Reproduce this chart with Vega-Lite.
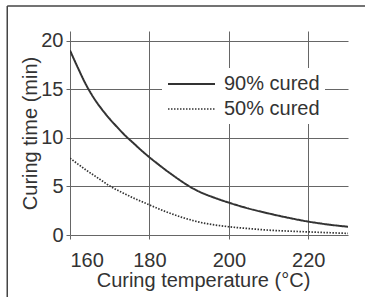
{
  "$schema": "https://vega.github.io/schema/vega-lite/v6.json",
  "autosize": "none",
  "width": 278,
  "height": 204,
  "padding": {"left": 70, "top": 31, "right": 17, "bottom": 62},
  "background": "white",
  "config": {
    "view": {"stroke": null},
    "font": "Liberation Sans",
    "axis": {
      "gridColor": "#666",
      "gridOpacity": 1,
      "gridWidth": 1,
      "tickColor": "#666",
      "tickSize": 4,
      "tickWidth": 1,
      "domain": false,
      "labelFont": "Liberation Sans",
      "labelFontSize": 20,
      "labelColor": "#333",
      "titleFont": "Liberation Sans",
      "titleFontSize": 20,
      "titleFontWeight": "normal",
      "titleColor": "#333"
    }
  },
  "datasets": {
    "curves": [
      {"temp": 160, "time": 19.0, "series": "90% cured"},
      {"temp": 162, "time": 17.2, "series": "90% cured"},
      {"temp": 164, "time": 15.5, "series": "90% cured"},
      {"temp": 166, "time": 14.1, "series": "90% cured"},
      {"temp": 168, "time": 12.95, "series": "90% cured"},
      {"temp": 170, "time": 11.95, "series": "90% cured"},
      {"temp": 172, "time": 11.05, "series": "90% cured"},
      {"temp": 174, "time": 10.2, "series": "90% cured"},
      {"temp": 176, "time": 9.45, "series": "90% cured"},
      {"temp": 178, "time": 8.7, "series": "90% cured"},
      {"temp": 180, "time": 8.0, "series": "90% cured"},
      {"temp": 182, "time": 7.35, "series": "90% cured"},
      {"temp": 184, "time": 6.72, "series": "90% cured"},
      {"temp": 186, "time": 6.12, "series": "90% cured"},
      {"temp": 188, "time": 5.55, "series": "90% cured"},
      {"temp": 190, "time": 5.02, "series": "90% cured"},
      {"temp": 192, "time": 4.57, "series": "90% cured"},
      {"temp": 194, "time": 4.2, "series": "90% cured"},
      {"temp": 196, "time": 3.89, "series": "90% cured"},
      {"temp": 198, "time": 3.6, "series": "90% cured"},
      {"temp": 200, "time": 3.33, "series": "90% cured"},
      {"temp": 205, "time": 2.72, "series": "90% cured"},
      {"temp": 210, "time": 2.22, "series": "90% cured"},
      {"temp": 215, "time": 1.77, "series": "90% cured"},
      {"temp": 220, "time": 1.38, "series": "90% cured"},
      {"temp": 225, "time": 1.08, "series": "90% cured"},
      {"temp": 230, "time": 0.85, "series": "90% cured"},
      {"temp": 160, "time": 7.9, "series": "50% cured"},
      {"temp": 162, "time": 7.3, "series": "50% cured"},
      {"temp": 164, "time": 6.7, "series": "50% cured"},
      {"temp": 166, "time": 6.15, "series": "50% cured"},
      {"temp": 168, "time": 5.6, "series": "50% cured"},
      {"temp": 170, "time": 5.05, "series": "50% cured"},
      {"temp": 172, "time": 4.6, "series": "50% cured"},
      {"temp": 174, "time": 4.2, "series": "50% cured"},
      {"temp": 176, "time": 3.8, "series": "50% cured"},
      {"temp": 178, "time": 3.45, "series": "50% cured"},
      {"temp": 180, "time": 3.1, "series": "50% cured"},
      {"temp": 182, "time": 2.75, "series": "50% cured"},
      {"temp": 184, "time": 2.42, "series": "50% cured"},
      {"temp": 186, "time": 2.12, "series": "50% cured"},
      {"temp": 188, "time": 1.84, "series": "50% cured"},
      {"temp": 190, "time": 1.6, "series": "50% cured"},
      {"temp": 192, "time": 1.38, "series": "50% cured"},
      {"temp": 194, "time": 1.2, "series": "50% cured"},
      {"temp": 196, "time": 1.06, "series": "50% cured"},
      {"temp": 198, "time": 0.95, "series": "50% cured"},
      {"temp": 200, "time": 0.85, "series": "50% cured"},
      {"temp": 205, "time": 0.66, "series": "50% cured"},
      {"temp": 210, "time": 0.5, "series": "50% cured"},
      {"temp": 215, "time": 0.4, "series": "50% cured"},
      {"temp": 220, "time": 0.32, "series": "50% cured"},
      {"temp": 225, "time": 0.24, "series": "50% cured"},
      {"temp": 230, "time": 0.17, "series": "50% cured"}
    ],
    "frame": [
      {"x1": 144.2, "x2": 144.2, "y1": 23.57, "y2": -7},
      {"x1": 144.2, "x2": 242, "y1": 23.57, "y2": 23.57}
    ]
  },
  "layer": [
    {
      "data": {"name": "frame"},
      "mark": {"type": "rule", "clip": false, "color": "#444", "strokeWidth": 1.5},
      "encoding": {
        "x": {"field": "x1", "type": "quantitative", "scale": {"domain": [160, 230], "nice": false, "zero": false}},
        "x2": {"field": "x2"},
        "y": {"field": "y1", "type": "quantitative", "scale": {"domain": [0, 21], "nice": false}},
        "y2": {"field": "y2"}
      }
    },
    {
      "data": {"name": "curves"},
      "mark": {"type": "line", "interpolate": "monotone", "color": "#333", "clip": true},
      "encoding": {
        "x": {
          "field": "temp",
          "type": "quantitative",
          "scale": {"domain": [160, 230], "nice": false, "zero": false},
          "axis": {
            "values": [160, 180, 200, 220],
            "title": "Curing temperature (°C)",
            "labelPadding": 11,
            "titleBaseline": "alphabetic",
            "titleX": 133,
            "titleY": 51,
            "titleAnchor": "middle"
          }
        },
        "y": {
          "field": "time",
          "type": "quantitative",
          "scale": {"domain": [0, 21], "nice": false},
          "axis": {
            "values": [0, 5, 10, 15, 20],
            "title": "Curing time (min)",
            "labelPadding": 3,
            "titleAngle": -90,
            "titleBaseline": "alphabetic",
            "titleX": -34,
            "titleY": 102,
            "titleAnchor": "middle"
          }
        },
        "strokeDash": {
          "field": "series",
          "type": "nominal",
          "scale": {"domain": ["90% cured", "50% cured"], "range": [[1, 0], [1.5, 1.5]]},
          "legend": {
            "title": null,
            "orient": "none",
            "legendX": 92,
            "legendY": 37,
            "padding": 5,
            "fillColor": "white",
            "symbolType": "M-1,0H3.7",
            "symbolSize": 400,
            "symbolStrokeColor": "#333",
            "symbolStrokeWidth": 2,
            "symbolFillColor": "transparent",
            "labelFontSize": 20,
            "labelFont": "Liberation Sans",
            "labelColor": "#333",
            "labelOffset": 35,
            "rowPadding": 4,
            "labelLimit": 200
          }
        },
        "strokeWidth": {
          "field": "series",
          "type": "nominal",
          "scale": {"domain": ["90% cured", "50% cured"], "range": [2, 1.7]},
          "legend": null
        }
      }
    }
  ]
}
